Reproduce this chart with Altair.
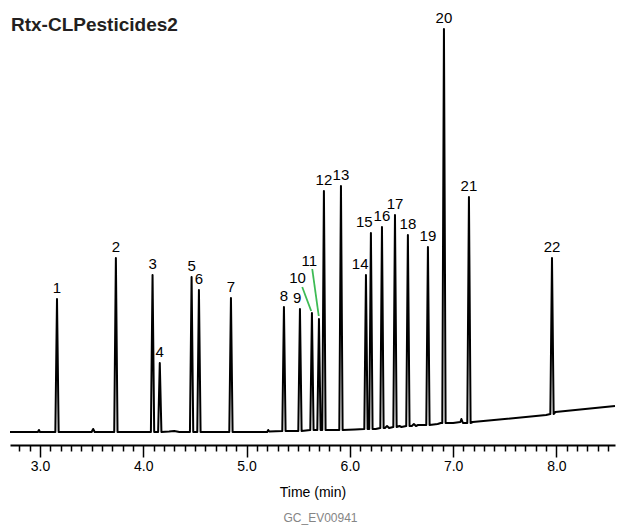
import altair as alt
import pandas as pd

title_text = "Rtx-CLPesticides2"
code_text = "GC_EV00941"
axis_title = "Time (min)"

# Peaks: retention time (min), apex level, baseline level under the peak
peak_labels = [str(i) for i in range(1, 23)]
peak_rt = [3.165, 3.735, 4.090, 4.160, 4.468, 4.539, 4.849, 5.362, 5.517, 5.633, 5.701,
           5.749, 5.914, 6.156, 6.204, 6.311, 6.437, 6.562, 6.756, 6.911, 7.153, 7.957]
peak_top = [146, 187, 170, 82, 168, 155, 147, 138, 136, 132, 126,
            254, 259, 170, 212, 218, 230, 210, 198, 416, 248, 187]
peak_base = [13, 13, 13, 13, 13, 13, 13, 14, 14, 15, 15,
             15, 15, 16, 16, 17, 18, 19, 20, 22, 22, 31]

# Baseline trace between peaks (time, level)
baseline_rt = [2.71, 2.98, 2.99, 3.00, 3.50, 3.515, 3.53, 4.25, 4.30, 4.35,
               5.00, 5.20, 5.21, 5.22, 5.45, 5.80, 6.05, 6.25,
               6.34, 6.36, 6.38, 6.48, 6.50, 6.60, 6.62, 6.64, 6.66, 6.72,
               6.85, 6.88, 7.00, 7.07, 7.08, 7.095, 7.12, 7.19, 7.90, 7.99, 8.567]
baseline_lvl = [13, 13, 15, 13, 13, 16, 13, 13.5, 14, 13,
                13, 13, 15, 13.5, 14, 15, 15.5, 16,
                17, 19, 17, 19, 18, 19, 21, 19, 20, 20,
                21, 22, 22, 23, 26, 22, 22, 23, 30, 33, 39]

# Label anchors (time, level) - mostly at the apex
label_rt = list(peak_rt)
label_lvl = list(peak_top)
label_rt[8] = 5.49
label_rt[9] = 5.494
label_lvl[9] = 156
label_rt[10] = 5.607
label_lvl[10] = 173
label_rt[13] = 6.10
label_rt[14] = 6.14

# Green leader lines for peaks 10 and 11
leader_rt = [5.539, 5.636]
leader_lvl = [158, 176]
leader_rt2 = [5.626, 5.699]
leader_lvl2 = [134, 129]

tick_values = [round(2.8 + 0.1 * i, 1) for i in range(58)]

HALF = 0.016

rows = [{"rt": t, "signal": v} for t, v in zip(baseline_rt, baseline_lvl)]
for t, top, b in zip(peak_rt, peak_top, peak_base):
    rows.append({"rt": t - HALF, "signal": b})
    rows.append({"rt": t, "signal": top})
    rows.append({"rt": t + HALF, "signal": b})
trace = pd.DataFrame(rows).sort_values("rt").reset_index(drop=True)
trace["order"] = range(len(trace))

labels_df = pd.DataFrame({"label": peak_labels, "rt": label_rt, "lvl": label_lvl})
leader_df = pd.DataFrame({"rt": leader_rt, "lvl": leader_lvl, "rt2": leader_rt2, "lvl2": leader_lvl2})

is_major = "abs(datum.value - round(datum.value)) < 0.01"

xscale = alt.Scale(domain=[2.71, 8.567], nice=False, zero=False)
yscale = alt.Scale(domain=[0, 437], nice=False, zero=False)

xaxis = alt.Axis(
    values=tick_values,
    tickCount=200,
    labelExpr=f"{is_major} ? format(datum.value, '.1f') : ''",
    tickSize={"condition": {"test": is_major, "value": 12}, "value": 6},
    tickColor="black", tickWidth=1.5,
    domainColor="black", domainWidth=1.8,
    labelFont="Liberation Sans", labelFontSize=14, labelColor="black",
    labelPadding=2, labelOverlap=False, labelFlush=False,
    title=axis_title, titleFont="Liberation Sans", titleFontSize=14,
    titleFontWeight="normal", titleColor="black", titlePadding=12,
    grid=False,
)

line = alt.Chart(trace).mark_line(color="black", strokeWidth=2, strokeJoin="round").encode(
    x=alt.X("rt:Q", scale=xscale, axis=xaxis),
    y=alt.Y("signal:Q", scale=yscale, axis=None),
    order="order:Q",
)

leaders = alt.Chart(leader_df).mark_rule(color="#3dbb54", strokeWidth=1.8).encode(
    x=alt.X("rt:Q", scale=xscale),
    x2="rt2:Q",
    y=alt.Y("lvl:Q", scale=yscale),
    y2="lvl2:Q",
)

labels = alt.Chart(labels_df).mark_text(
    baseline="alphabetic", align="center", dy=-6,
    font="Liberation Sans", fontSize=15, color="black",
).encode(
    x=alt.X("rt:Q", scale=xscale),
    y=alt.Y("lvl:Q", scale=yscale),
    text="label:N",
)

title_mark = alt.Chart(pd.DataFrame({"t": [title_text]})).mark_text(
    align="left", baseline="alphabetic",
    font="Liberation Sans", fontWeight="bold", fontSize=19, color="#231f20",
).encode(x=alt.value(1), y=alt.value(23), text="t:N")

chart = alt.layer(line, leaders, labels, title_mark).properties(
    width=605, height=437,
    padding={"left": 1, "right": 0, "top": 0, "bottom": 3},
    title=alt.TitleParams(code_text, orient="bottom", anchor="middle", fontSize=12,
                          font="Liberation Sans", fontWeight="normal", color="#858585",
                          offset=14, dx=8),
).configure_view(stroke=None)

chart.save("out.html", embed_options={"renderer": "svg", "actions": False})
